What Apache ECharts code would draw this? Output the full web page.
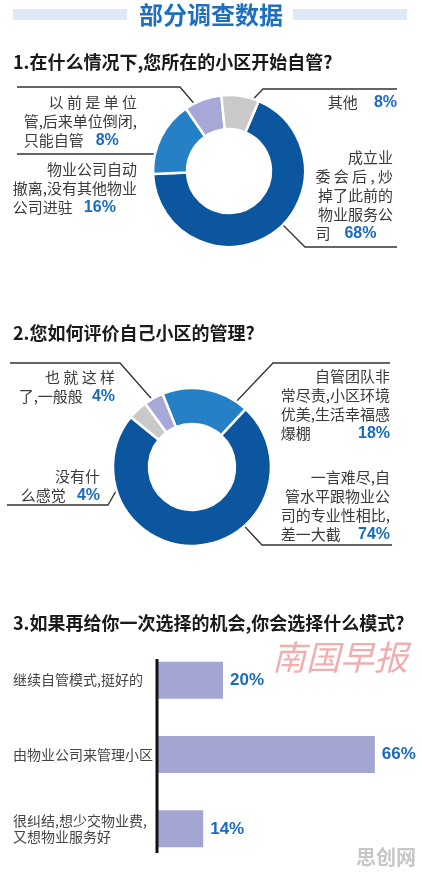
<!DOCTYPE html>
<html>
<head>
<meta charset="utf-8">
<script src="https://cdn.jsdelivr.net/npm/echarts@6/dist/echarts.min.js"></script>
<style>
  html, body { margin: 0; padding: 0; background: #fff; }
  #chart { width: 422px; height: 876px; }
</style>
</head>
<body>
<div id="chart"></div>
<script>
// ---- 数据 ----
// 1. 在什么情况下,您所在的小区开始自管?
const q1Names = ['成立业委会后,炒掉了此前的物业服务公司', '物业公司自动撤离,没有其他物业公司进驻', '以前是单位管,后来单位倒闭,只能自管', '其他'];
const q1Values = [68, 16, 8, 8];
const q1Text = [
  ['成立业', '委 会 后 , 炒', '掉了此前的', '物业服务公', '司'],
  ['物业公司自动', '撤离,没有其他物业', '公司进驻'],
  ['以 前 是 单 位', '管,后来单位倒闭,', '只能自管'],
  ['其他']
];
// 2. 您如何评价自己小区的管理?
const q2Names = ['自管团队非常尽责,小区环境优美,生活幸福感爆棚', '一言难尽,自管水平跟物业公司的专业性相比,差一大截', '没有什么感觉', '也就这样了,一般般'];
const q2Values = [18, 74, 4, 4];
const q2Text = [
  ['自管团队非', '常尽责,小区环境', '优美,生活幸福感', '爆棚'],
  ['一言难尽,自', '管水平跟物业公', '司的专业性相比,', '差一大截'],
  ['没有什', '么感觉'],
  ['也 就 这 样', '了,一般般']
];
// 3. 如果再给你一次选择的机会,你会选择什么模式?
const q3Names = ['继续自管模式,挺好的', '由物业公司来管理小区', '很纠结,想少交物业费,\n又想物业服务好'];
const q3Values = [20, 66, 14];

// ---- 样式/版式 ----
const sliceColors1 = ['#0b569f', '#2680c6', '#a7a7d8', '#c9c9c9'];
const sliceColors2 = ['#2680c6', '#0b569f', '#c9c9c9', '#a7a7d8'];
const pctBlue = '#1a6bbf';
const txtColor = '#3a3a3a';
const cjk = '"Noto Sans CJK SC", sans-serif';
const num = '"Liberation Sans", Arial, sans-serif';

// 标签版式: mode 最后一行对齐方式, gap 百分比前的空隙, x/y 文本块右上角, line 引线
const q1Layout = [
  { mode: 'left', gap: 14, x: 393, y: 148, line: [[280, 222], [305, 247], [397, 247]] },
  { mode: 'left', gap: 11, x: 137, y: 160, line: [[176, 165], [167, 154], [17, 154]] },
  { mode: 'left', gap: 12, x: 137, y: 93, line: [[208, 120], [180, 87], [17, 87]] },
  { mode: 'right', gap: 16, x: 397, y: 93, line: [[233, 120], [263, 89], [397, 89]] }
];
const q2Layout = [
  { mode: 'split', gap: 0, x: 390, y: 367, line: [[233, 405], [273, 363], [390, 363]] },
  { mode: 'split', gap: 0, x: 390, y: 468, line: [[232, 513], [262, 545], [392, 545]] },
  { mode: 'right', gap: 11, x: 100, y: 467, line: [[152, 428], [108, 505], [7, 505]] },
  { mode: 'right', gap: 9, x: 115, y: 368, line: [[157, 405], [120, 363], [10, 363]] }
];

function buildRich(layout) {
  const base = { fontFamily: cjk, fontSize: 15, color: txtColor, lineHeight: 19 };
  const rich = {
    r: Object.assign({ align: 'right' }, base),
    l: Object.assign({ align: 'left' }, base)
  };
  layout.forEach((lay, i) => {
    rich['p' + i] = {
      align: lay.mode === 'left' ? 'left' : 'right',
      padding: [0, 0, 0, lay.gap],
      fontFamily: num, fontSize: 16, fontWeight: 'bold', color: pctBlue, lineHeight: 19
    };
  });
  return rich;
}

function pieSeries(names, values, colors, textLines, layout, center, radius, startAngle) {
  return {
    type: 'pie',
    center: center,
    radius: radius,
    startAngle: startAngle,
    clockwise: true,
    avoidLabelOverlap: false,
    animation: false,
    emphasis: { disabled: true },
    itemStyle: { borderColor: '#fff', borderWidth: 2.5 },
    label: {
      show: true,
      position: 'outside',
      formatter: (p) => {
        const lines = textLines[p.dataIndex];
        const lay = layout[p.dataIndex];
        const out = lines.slice(0, -1).map(s => '{r|' + s + '}');
        const t = lay.mode === 'right' ? 'r' : 'l';
        out.push('{' + t + '|' + lines[lines.length - 1] + '}{p' + p.dataIndex + '|' + p.value + '%}');
        return out.join('\n');
      },
      rich: buildRich(layout)
    },
    labelLine: { show: true, lineStyle: { color: '#333', width: 1.3 } },
    labelLayout: (p) => {
      const lay = layout[p.dataIndex];
      return {
        x: lay.x, y: lay.y, align: 'right', verticalAlign: 'top',
        labelLinePoints: lay.line.map(pt => pt.slice())
      };
    },
    data: names.map((n, i) => ({ name: n, value: values[i], itemStyle: { color: colors[i] } }))
  };
}

const chart = echarts.init(document.getElementById('chart'));

const option = {
  backgroundColor: '#fff',
  animation: false,
  graphic: [
    { type: 'rect', shape: { x: 13, y: 9, width: 114, height: 11 }, style: { fill: '#dde9f6' } },
    { type: 'rect', shape: { x: 293, y: 9, width: 114, height: 11 }, style: { fill: '#dde9f6' } },
    { type: 'text', x: 211, y: 15, style: { text: '部分调查数据', fill: '#1f6fc0', font: 'bold 24px ' + cjk, align: 'center', verticalAlign: 'middle' } },
    { type: 'text', x: 13, y: 62, style: { text: '1.在什么情况下,您所在的小区开始自管?', fill: '#1a1a1a', font: 'bold 18px ' + cjk, verticalAlign: 'middle' } },
    { type: 'text', x: 13, y: 333, style: { text: '2.您如何评价自己小区的管理?', fill: '#1a1a1a', font: 'bold 18px ' + cjk, verticalAlign: 'middle' } },
    { type: 'text', x: 13, y: 623, style: { text: '3.如果再给你一次选择的机会,你会选择什么模式?', fill: '#1a1a1a', font: 'bold 18px ' + cjk, verticalAlign: 'middle' } },
    { type: 'text', x: 340, y: 657, style: { text: '南国早报', fill: 'rgba(232,120,120,0.6)', font: 'italic 34px ' + cjk, align: 'center', verticalAlign: 'middle' } },
    { type: 'text', x: 386, y: 857, style: { text: '思创网', fill: '#c6c6c6', font: 'bold 20px ' + cjk, align: 'center', verticalAlign: 'middle' } },
    // 条形图的竖轴线
    { type: 'line', shape: { x1: 157, y1: 659, x2: 157, y2: 853 }, style: { stroke: '#111', lineWidth: 3 }, z: 10 }
  ],
  grid: { left: 157, width: 231, top: 643, height: 223 },
  xAxis: { type: 'value', min: 0, max: 70, show: false },
  yAxis: {
    type: 'category',
    data: q3Names,
    inverse: true,
    axisLine: { show: false },
    axisTick: { show: false },
    splitLine: { show: false },
    axisLabel: { margin: 144, align: 'left', fontFamily: cjk, fontSize: 14, color: '#444', lineHeight: 16 }
  },
  series: [
    pieSeries(q1Names, q1Values, sliceColors1, q1Text, q1Layout, [229, 171], [42, 76], 67),
    pieSeries(q2Names, q2Values, sliceColors2, q2Text, q2Layout, [192, 467], [43, 79], 112),
    {
      type: 'bar',
      data: q3Values,
      barWidth: 37,
      animation: false,
      emphasis: { disabled: true },
      itemStyle: { color: '#a3a5d3' },
      label: {
        show: true, position: 'right', distance: 7, formatter: '{c}%',
        fontFamily: num, fontSize: 17, fontWeight: 'bold', color: pctBlue
      }
    }
  ]
};

chart.setOption(option);
</script>
</body>
</html>
